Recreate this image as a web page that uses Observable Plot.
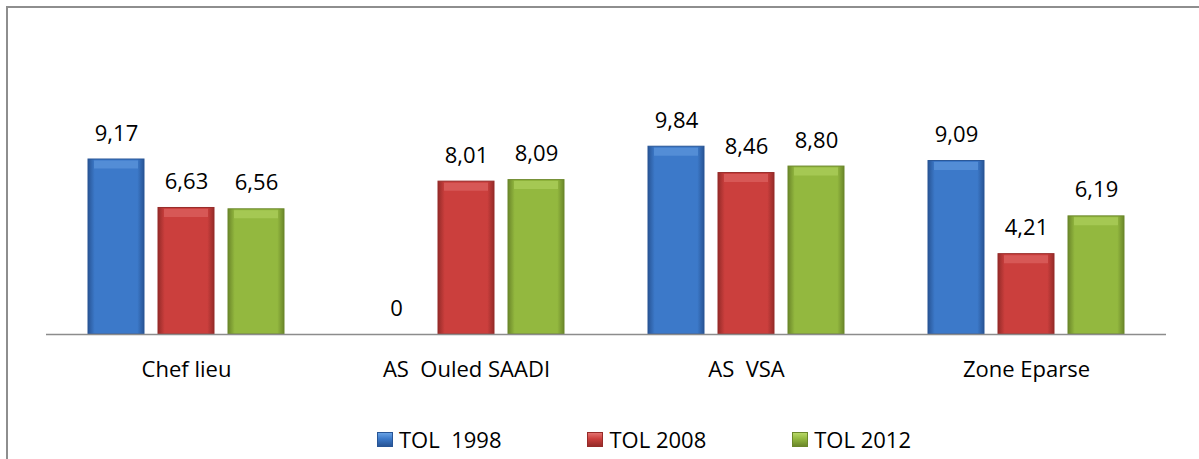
<!DOCTYPE html>
<html><head><meta charset="utf-8">
<script src="https://cdn.jsdelivr.net/npm/d3@7"></script>
<script src="https://cdn.jsdelivr.net/npm/@observablehq/plot@0.6"></script>
<style>
body{margin:0;background:#fff;font-family:"Open Sans",sans-serif;}
#wrap{position:relative;width:1199px;height:459px;overflow:hidden;background:#fff;}
#frame{position:absolute;left:6px;top:6px;width:1300px;height:500px;border-left:2px solid #8e8e8e;border-top:2px solid #8e8e8e;}
#chart{position:absolute;left:0;top:0;}
#chart svg text{white-space:pre;}
#legend{position:absolute;left:377px;top:424px;display:flex;gap:86px;font-size:22px;color:#000;white-space:pre;line-height:30px;}
.item{display:flex;align-items:center;}
.sw{width:16px;height:15px;margin-right:6px;box-sizing:border-box;}
</style></head>
<body>
<div id="wrap">
  <div id="frame"></div>
  <div id="chart"></div>
  <div id="legend"></div>
</div>
<script>
const categories = ["Chef lieu", "AS  Ouled SAADI", "AS  VSA", "Zone Eparse"];
const series = ["TOL  1998", "TOL 2008", "TOL 2012"];
const tol1998 = [9.17, 0, 9.84, 9.09];
const tol2008 = [6.63, 8.01, 8.46, 4.21];
const tol2012 = [6.56, 8.09, 8.80, 6.19];
const baseColors = ["#3c79c9", "#cb3f3d", "#93b83f"];
const darkColors = ["#285596", "#962b29", "#6b872a"];
const lightColors = ["#69a2e4", "#e3726f", "#b7d767"];

const seriesValues = [tol1998, tol2008, tol2012];
const rows = [];
categories.forEach((c, i) => series.forEach((s, j) => rows.push({cat: c, series: s, si: j, value: seriesValues[j][i]})));
const fmt = v => v === 0 ? "0" : v.toFixed(2).replace(".", ",");

const bevels = series.map((s, j) => Plot.tickY(rows.filter(d => d.si === j && d.value > 0), {
  fx: "cat", x: "series", y: "value", stroke: lightColors[j], strokeWidth: 8, dy: 5, insetLeft: 6, insetRight: 6, strokeOpacity: 0.5
}));

const chart = Plot.plot({
  width: 1199, height: 400,
  marginLeft: 44, marginRight: 32, marginTop: 105, marginBottom: 66,
  style: {fontFamily: "Open Sans", fontSize: "22px", background: "transparent", color: "#000", overflow: "visible"},
  fx: {domain: categories, padding: 0, label: null, axis: "bottom", tickSize: 0, tickPadding: 27},
  x: {domain: series, paddingInner: 0.2, paddingOuter: 0.6, axis: null},
  y: {domain: [0, 12], axis: null},
  color: {domain: series, range: baseColors},
  marks: [
    Plot.barY(rows, {fx: "cat", x: "series", y: "value", fill: "series"}),
    ...bevels,
    Plot.ruleY([0], {stroke: "#8c8c8c", strokeWidth: 1.5}),
    Plot.text(rows, {fx: "cat", x: "series", y: "value", text: d => fmt(d.value), lineAnchor: "bottom", dy: -19, fill: "#000", fontSize: 22})
  ]
});

const svg = d3.select(chart);
const defs = svg.insert("defs", ":first-child");
baseColors.forEach((c, j) => {
  const g = defs.append("linearGradient").attr("id", "grad" + j).attr("x1", 0).attr("x2", 1).attr("y1", 0).attr("y2", 0);
  g.append("stop").attr("offset", "0%").attr("stop-color", darkColors[j]);
  g.append("stop").attr("offset", "12%").attr("stop-color", c);
  g.append("stop").attr("offset", "88%").attr("stop-color", c);
  g.append("stop").attr("offset", "100%").attr("stop-color", darkColors[j]);
});
svg.selectAll('g[aria-label="bar"] rect').each(function() {
  const f = (this.getAttribute("fill") || "").toLowerCase();
  const j = baseColors.indexOf(f);
  if (j >= 0) {
    this.setAttribute("fill", "url(#grad" + j + ")");
    this.setAttribute("stroke", darkColors[j]);
    this.setAttribute("stroke-width", "1");
  }
});
document.getElementById("chart").appendChild(chart);

const legend = d3.select("#legend");
series.forEach((s, j) => {
  const it = legend.append("div").attr("class", "item");
  it.append("div").attr("class", "sw")
    .style("background", `linear-gradient(to bottom, ${lightColors[j]} 0%, ${baseColors[j]} 45%, ${darkColors[j]} 100%)`)
    .style("border", `1px solid ${darkColors[j]}`);
  it.append("span").text(s);
});
</script>
</body></html>
